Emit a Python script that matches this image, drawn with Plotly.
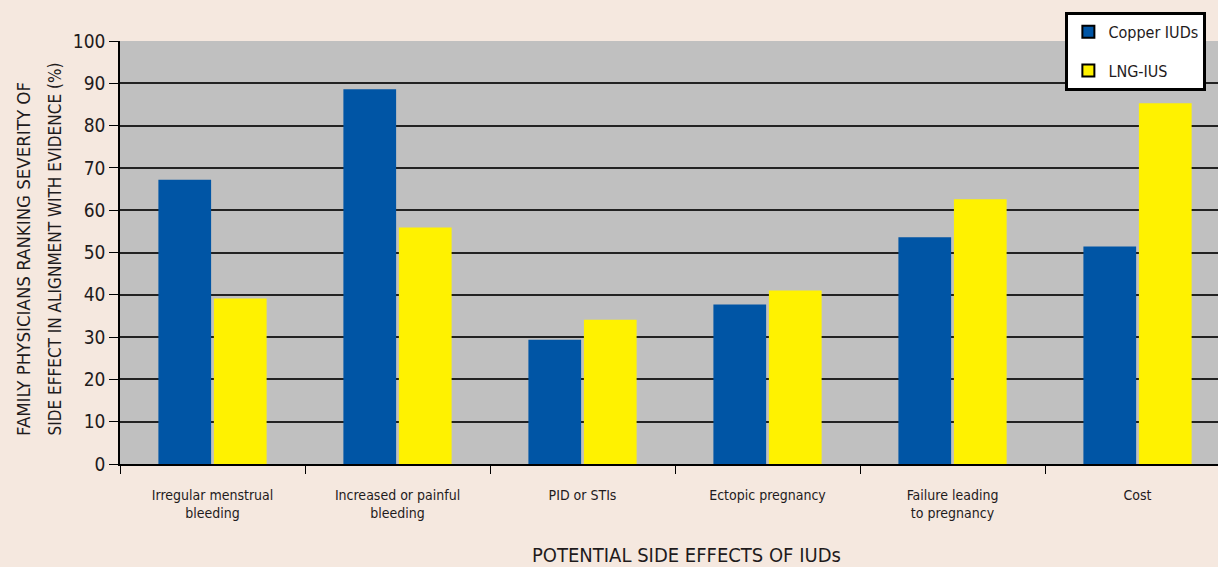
import plotly.graph_objects as go

categories = [
    "Irregular menstrual<br>bleeding",
    "Increased or painful<br>bleeding",
    "PID or STIs",
    "Ectopic pregnancy",
    "Failure leading<br>to pregnancy",
    "Cost",
]
copper_iuds = [67.2, 88.6, 29.4, 37.7, 53.6, 51.4]
lng_ius = [39.1, 55.9, 34.1, 41.0, 62.6, 85.3]
y_ticks = [0, 10, 20, 30, 40, 50, 60, 70, 80, 90, 100]
y_title_lines = [
    "FAMILY PHYSICIANS RANKING SEVERITY OF",
    "SIDE EFFECT IN ALIGNMENT WITH EVIDENCE (%)",
]
x_title = "POTENTIAL SIDE EFFECTS OF IUDs"

BLUE = "#0055a5"
YELLOW = "#fff200"
TEXT = "#1f1b1c"
FONT = "DejaVu Sans Condensed"

W, H = 1218, 567
ML, MT, MB = 120, 41, 103
plot_w = W - ML
plot_h = H - MT - MB

fig = go.Figure()
fig.add_trace(go.Bar(x=categories, y=copper_iuds, name="Copper IUDs",
                     marker=dict(color=BLUE, line=dict(width=0)), showlegend=False))
fig.add_trace(go.Bar(x=categories, y=lng_ius, name="LNG-IUS",
                     marker=dict(color=YELLOW, line=dict(width=0)), showlegend=False))

# legend entries with outlined square swatches
for name, col in [("Copper IUDs", BLUE), ("LNG-IUS", YELLOW)]:
    fig.add_trace(go.Scatter(x=[None], y=[None], mode="markers", name=name,
                             legendgroup=name,
                             marker=dict(symbol="square", size=16, color=col,
                                         line=dict(color="black", width=2.5))))

# two-line rotated y title, both lines aligned at their start (bottom)
for line, xpx, fs in zip(y_title_lines, [23, 54], [18.5, 17]):
    fig.add_annotation(
        text=line, textangle=-90, showarrow=False,
        xref="paper", yref="paper",
        x=(xpx - ML) / plot_w, y=(H - MB - 438) / plot_h,
        xanchor="center", yanchor="bottom",
        font=dict(family=FONT, size=fs, color=TEXT),
    )

fig.add_annotation(
    text=x_title, showarrow=False,
    xref="paper", yref="paper",
    x=(686 - ML) / plot_w, y=(H - MB - 555) / plot_h,
    xanchor="center", yanchor="middle",
    font=dict(family=FONT, size=20, color=TEXT),
)

fig.update_layout(
    width=W, height=H,
    margin=dict(l=ML, r=0, t=MT, b=MB),
    paper_bgcolor="#f5e8df",
    plot_bgcolor="#c0c0c0",
    barmode="group",
    bargap=0.4,
    bargroupgap=0.05,
    font=dict(family=FONT, color=TEXT),
    legend=dict(
        x=0.861, y=1.069, xanchor="left", yanchor="top",
        bgcolor="white", bordercolor="black", borderwidth=3,
        font=dict(family=FONT, size=16, color=TEXT),
        itemsizing="constant", tracegroupgap=15,
    ),
    xaxis=dict(
        range=[-0.5, 5.435],
        showline=True, linecolor="black", linewidth=1.5,
        ticks="outside", tickson="boundaries", ticklen=8, tickcolor="black",
        tickfont=dict(size=14, color=TEXT),
        ticklabelstandoff=17,
        showgrid=False,
    ),
    yaxis=dict(
        range=[0, 100],
        tickvals=y_ticks,
        showline=True, linecolor="black", linewidth=1.5,
        ticks="outside", ticklen=9, tickcolor="black",
        tickfont=dict(size=19, color=TEXT),
        showgrid=True, gridcolor="#222222", gridwidth=1.5,
        zeroline=False,
    ),
)

fig.write_html("out.html")
